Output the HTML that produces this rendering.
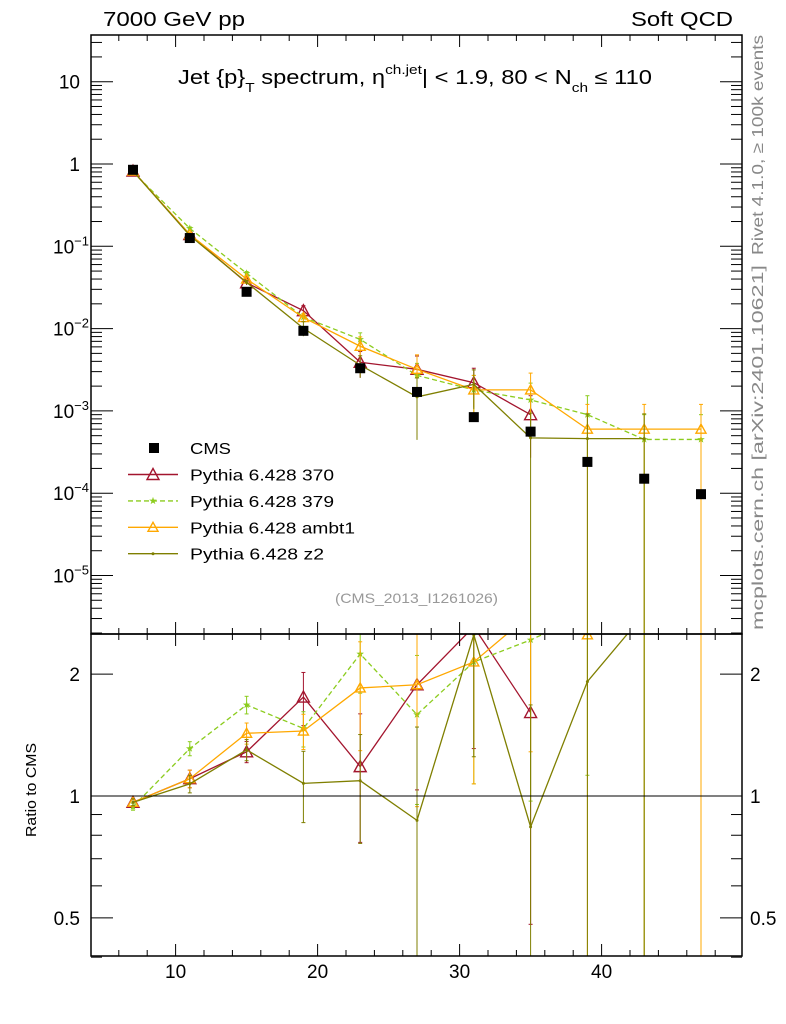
<!DOCTYPE html>
<html><head><meta charset="utf-8"><style>
html,body{margin:0;padding:0;background:#fff;overflow:hidden;width:786px;height:1024px}
svg{font-family:"Liberation Sans",sans-serif;display:block}
</style></head><body>
<svg id="c" width="786" height="1024" xmlns="http://www.w3.org/2000/svg"></svg>
<script>
const xs=[7,11,15,19,23,27,31,35,39,43,47];
const cms=[0.85,0.126,0.028,0.0094,0.0033,0.0017,0.00084,0.00056,0.00024,0.00015,0.0000973];
const s370=[0.82,0.139,0.036,0.0165,0.0039,0.0032,0.0022,0.0009];
const s379=[0.80,0.165,0.047,0.0138,0.0074,0.0027,0.0018,0.00136,0.0009,0.00045,0.00045];
const sambt1=[0.82,0.139,0.040,0.0136,0.0061,0.0032,0.0018,0.0018,0.0006,0.0006,0.0006];
const sz2=[0.82,0.135,0.0364,0.0101,0.0036,0.00148,0.0021,0.00047,0.00046,0.00046];
const e370=[0.02,0.05,0.06,0.15,0.35,0.45,0.5,0.7];
const e379=[0.02,0.04,0.05,0.1,0.2,0.4,0.5,0.6,0.7,1,1];
const eambt1=[0.02,0.05,0.06,0.1,0.3,0.5,0.5,0.6,1,1,1];
const ez2=[0.02,0.05,0.06,0.2,0.3,0.7,0.5,1,1,1];
const yTicks=[10,1,0.1,0.01,0.001,0.0001,0.00001];
const yTickLabels=['10','1','10','10','10','10','10'];
const yTickExp=['','','−1','−2','−3','−4','−5'];
const xTicks=[10,20,30,40];
const rTicks=[2,1,0.5];

const NS='http://www.w3.org/2000/svg';
const svg=document.getElementById('c');
const L=91,R=742,T=35,M=634,B=956;
const X=v=>133+(v-7)*14.2;
const cl=(y,a,b)=>Math.max(a,Math.min(b,y));
const Y=v=>cl(164-Math.log10(v)*82.3,T-20,M+20);
const RY=v=>cl(796-Math.log10(v)*405,M-20,B+20);
function el(t,a,p){const e=document.createElementNS(NS,t);for(const k in a)e.setAttribute(k,a[k]);(p||svg).appendChild(e);return e;}
function txt(s,a,p){const e=el('text',a,p);e.textContent=s;return e;}

const clipM=el('clipPath',{id:'cm'});el('rect',{x:L,y:T,width:R-L,height:M-T},clipM);
const clipR=el('clipPath',{id:'cr'});el('rect',{x:L,y:M,width:R-L,height:B-M},clipR);
const gM=el('g',{'clip-path':'url(#cm)'});


const gR=el('g',{'clip-path':'url(#cr)'});



const ref=el('line',{x1:L,x2:R,y1:RY(1),y2:RY(1),stroke:'#000','stroke-width':1});



function marker(g,type,x,y,col){
  if(type==='tri'){el('path',{d:`M${x},${y-6}L${x+6},${y+5}L${x-6},${y+5}Z`,fill:'none',stroke:col,'stroke-width':1.4},g);}
  else if(type==='tris'){el('path',{d:`M${x},${y-5}L${x+5},${y+4}L${x-5},${y+4}Z`,fill:'none',stroke:col,'stroke-width':1.4},g);}
  else if(type==='star'){let d='';for(let i=0;i<10;i++){const r=i%2?1.6:4,a=-Math.PI/2+i*Math.PI/5;d+=(i?'L':'M')+(x+r*Math.cos(a))+','+(y+r*Math.sin(a));}el('path',{d:d+'Z',fill:col},g);}
  else if(type==='dot'){el('circle',{cx:x,cy:y,r:1.5,fill:col},g);}
}
const series=[
 {name:'370',v:s370,e:e370,col:'#a3152e',m:'tri',dash:'',lw:144},
 {name:'379',v:s379,e:e379,col:'#8ccc1e',m:'star',dash:'5,3',lw:144},
 {name:'ambt1',v:sambt1,e:eambt1,col:'#ffa800',m:'tris',dash:'',lw:165},
 {name:'z2',v:sz2,e:ez2,col:'#7f7f00',m:'dot',dash:'',lw:134}];
series.forEach(s=>{
  const g=el('g',{},gM);
  const gr=el('g',{},gR);
  let p='',pr='';
  s.v.forEach((v,i)=>{const x=X(xs[i]);p+=(i?'L':'M')+x+','+Y(v);pr+=(i?'L':'M')+x+','+RY(v/cms[i]);
    const lo=Math.max(v*(1-s.e[i]),1e-9),hi=v*(1+s.e[i]);
    el('line',{x1:x,x2:x,y1:Y(lo),y2:Y(hi),stroke:s.col,'stroke-width':1},g);
    el('line',{x1:x-2,x2:x+2,y1:Y(hi),y2:Y(hi),stroke:s.col},g);
    el('line',{x1:x,x2:x,y1:RY(lo/cms[i]),y2:RY(hi/cms[i]),stroke:s.col,'stroke-width':1},gr);
    el('line',{x1:x-2,x2:x+2,y1:RY(hi/cms[i]),y2:RY(hi/cms[i]),stroke:s.col},gr);
    el('line',{x1:x-2,x2:x+2,y1:RY(lo/cms[i]),y2:RY(lo/cms[i]),stroke:s.col},gr);
  });
  el('path',{d:p,fill:'none',stroke:s.col,'stroke-width':1.3,'stroke-dasharray':s.dash},g);
  el('path',{d:pr,fill:'none',stroke:s.col,'stroke-width':1.3,'stroke-dasharray':s.dash},gr);
  s.v.forEach((v,i)=>{marker(g,s.m,X(xs[i]),Y(v),s.col);marker(gr,s.m,X(xs[i]),RY(v/cms[i]),s.col);});
});
const gc=el('g',{},gM);
cms.forEach((v,i)=>{const r=el('rect',{x:X(xs[i])-5,y:Y(v)-5,width:10,height:10,fill:'#000'},gc);
  });

el('rect',{x:L,y:T,width:R-L,height:M-T,fill:'none',stroke:'#000','stroke-width':1.5});
el('rect',{x:L,y:M,width:R-L,height:B-M,fill:'none',stroke:'#000','stroke-width':1.5});
for(let v=6;v<=50;v+=2){const x=X(v);if(x<L||x>R)continue;const big=v%10===0;const h=big?12:6;
  [[T,1],[M,-1],[M,1],[B,-1]].forEach(([y,d])=>el('line',{x1:x,x2:x,y1:y,y2:y+d*h,stroke:'#000'}));}
xTicks.forEach(v=>{const t=txt(String(v),{x:X(v),y:978,'font-size':19,'text-anchor':'middle'});
  });
for(let e=-6;e<=1;e++)for(let k=1;k<10;k++){const v=k*Math.pow(10,e),y=164-Math.log10(v)*82.3;if(y<T||y>M)continue;const h=k===1?22:11;
  el('line',{x1:L,x2:L+h,y1:y,y2:y,stroke:'#000'});el('line',{x1:R,x2:R-h,y1:y,y2:y,stroke:'#000'});}
yTicks.forEach((v,i)=>{const t=txt('',{x:yTickExp[i]?53:80,y:Y(v)+7,'font-size':19,'text-anchor':yTickExp[i]?'start':'end'});
  
  const a=el('tspan',{},t);a.textContent=yTickLabels[i];
  if(yTickExp[i]){const b=el('tspan',{dy:-8,'font-size':13},t);b.textContent=yTickExp[i];}});
[0.4,0.5,0.6,0.7,0.8,0.9,1,2].forEach(v=>{const y=RY(v);const h=(v===1||v===0.5||v===2)?22:11;
  el('line',{x1:L,x2:L+h,y1:y,y2:y,stroke:'#000'});el('line',{x1:R,x2:R-h,y1:y,y2:y,stroke:'#000'});});
rTicks.forEach(v=>{const a=txt(String(v),{x:80,y:RY(v)+7,'font-size':19,'text-anchor':'end'});
  
  const b=txt(String(v),{x:750,y:RY(v)+7,'font-size':19});
  });

const lg=el('g',{});
el('rect',{x:149,y:443,width:10,height:10,fill:'#000'},lg);
txt('CMS',{x:190,y:454,'font-size':16,textLength:41,lengthAdjust:'spacingAndGlyphs'},lg);
series.forEach((s,i)=>{const y=474.5+i*26.4;
  const g=el('g',{},lg);
  el('line',{x1:128,x2:178,y1:y,y2:y,stroke:s.col,'stroke-width':1.4,'stroke-dasharray':s.dash},g);
  marker(g,s.m,153,y,s.col);
  txt('Pythia 6.428 '+s.name,{x:190,y:y+6,'font-size':16,textLength:s.lw,lengthAdjust:'spacingAndGlyphs'},g);});

const la={lengthAdjust:'spacingAndGlyphs'};
let t=txt('7000 GeV pp',{x:103,y:26,'font-size':20,textLength:142,...la});

t=txt('Soft QCD',{x:631,y:26,'font-size':20,textLength:102,...la});

t=el('text',{x:178,y:84,'font-size':20,textLength:474,...la});

[['Jet {p}',0,20],['T',8,13],[' spectrum, η',-8,20],['ch.jet',-10,13],['| < 1.9, 80 < N',10,20],['ch',8,13],[' ≤ 110',-8,20]].forEach(([s,dy,fs])=>{const sp=el('tspan',{dy:dy,'font-size':fs},t);sp.textContent=s;});
t=txt('(CMS_2013_I1261026)',{x:335,y:603,'font-size':14,fill:'#999',textLength:163,...la});

t=txt('Rivet 4.1.0, ≥ 100k events',{x:0,y:0,'font-size':16,fill:'#888',textLength:220,...la,transform:'translate(763,255) rotate(-90)'});

t=txt('mcplots.cern.ch [arXiv:2401.10621]',{x:0,y:0,'font-size':16,fill:'#888',textLength:365,...la,transform:'translate(763,630) rotate(-90)'});

t=txt('Ratio to CMS',{x:0,y:0,'font-size':15,textLength:94,...la,transform:'translate(36,837) rotate(-90)'});

</script>
</body></html>
